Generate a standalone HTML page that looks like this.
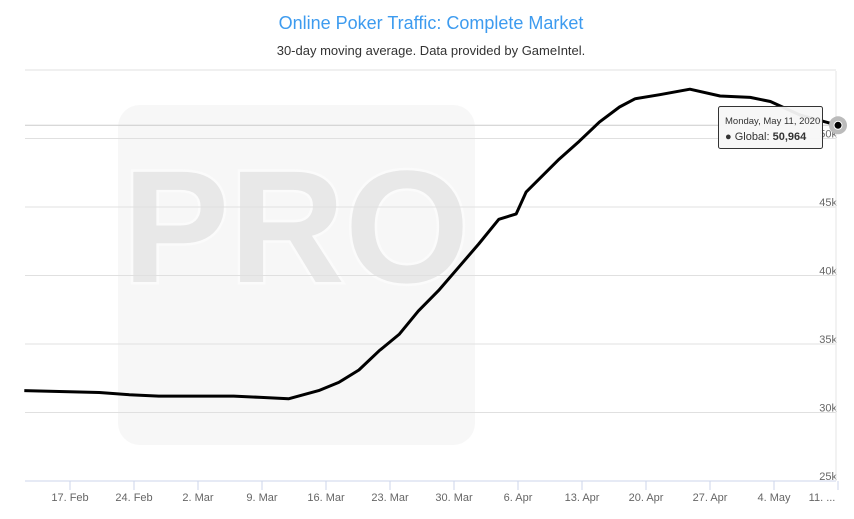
<!DOCTYPE html>
<html><head><meta charset="utf-8"><style>
html,body{margin:0;padding:0;background:#fff;}
svg{display:block;font-family:"Liberation Sans",sans-serif;}
</style></head><body>
<svg id="chart" width="854" height="519" viewBox="0 0 854 519">
<g id="watermark">
<rect x="118" y="105" width="357" height="340" rx="22" fill="#f7f7f7"/>
<text x="296" y="282" text-anchor="middle" font-size="160" style="font-weight:700" fill="#e8e8e8" stroke="#fbfbfb" stroke-width="5" paint-order="stroke">PRO</text>
</g>
<text x="431" y="29" text-anchor="middle" font-size="18" fill="#3d9bef">Online Poker Traffic: Complete Market</text>
<text x="431" y="55" text-anchor="middle" font-size="13" fill="#333">30-day moving average. Data provided by GameIntel.</text>
<g id="grid"></g><g id="xaxis"></g><g id="series"></g><g id="tip"></g>
</svg>
<script>
const yTicks=[25,30,35,40,45,50,55];
const xTickLabels=["17. Feb","24. Feb","2. Mar","9. Mar","16. Mar","23. Mar","30. Mar","6. Apr","13. Apr","20. Apr","27. Apr","4. May","11. ..."];
const xTickDays=[4,11,18,25,32,39,46,53,60,67,74,81,88];
const days=[-1,7.2,10.5,13.7,18.1,21.9,24.9,27.9,31.2,33.4,35.6,37.8,40,42.1,44.3,46.5,48.7,50.9,52.8,53.9,57.5,59.7,61.9,64.1,65.8,68.5,71.8,75.1,78.4,80.6,83.9,88];
const values=[31.6,31.46,31.3,31.2,31.2,31.2,31.1,31.0,31.6,32.2,33.1,34.5,35.7,37.4,38.9,40.6,42.3,44.1,44.5,46.1,48.5,49.8,51.2,52.3,52.9,53.2,53.6,53.1,53.0,52.7,51.7,50.964];
const NS="http://www.w3.org/2000/svg";
const xS=d=>70+(d-4)*9.143;
const yS=v=>481-(v-25)*13.7;
function mk(t,a,p){const e=document.createElementNS(NS,t);for(const k in a)e.setAttribute(k,a[k]);p.appendChild(e);return e;}
const grid=document.getElementById('grid');
yTicks.forEach(v=>{
  const l=mk('line',{x1:25,x2:836,y1:yS(v),y2:yS(v),stroke:v===25?'#ccd6eb':'#e0e0e0','stroke-width':1},grid);
  
  
  if(v<55){const t=mk('text',{x:837,y:yS(v)-1,'text-anchor':'end','font-size':11,fill:'#666'},grid);t.textContent=v+'k';
  
  }
});
const rb=mk('line',{x1:836,x2:836,y1:71,y2:481,stroke:'#e6e6e6'},grid);


const xa=document.getElementById('xaxis');
xTickDays.forEach((d,i)=>{
  const x=xS(d);
  const tk=mk('line',{x1:x,x2:x,y1:481,y2:490,stroke:'#ccd6eb'},xa);
  
  
  const t=mk('text',{x:i===12?x-16:x,y:501,'text-anchor':'middle','font-size':11,fill:'#666'},xa);t.textContent=xTickLabels[i];
  
  
});
const s=document.getElementById('series');
const pts=days.map((d,i)=>xS(d).toFixed(1)+','+yS(values[i]).toFixed(1));
const hl=mk('line',{x1:25,x2:836,y1:yS(values[values.length-1]),y2:yS(values[values.length-1]),stroke:'#ccc'},s);


const pl=mk('polyline',{points:pts.join(' '),fill:'none',stroke:'#000','stroke-width':3,'stroke-linejoin':'round'},s);


const lx=xS(days[days.length-1]),ly=yS(values[values.length-1]);
const halo=mk('circle',{cx:lx,cy:ly,r:9,fill:'#bbb'},s);


const dot=mk('circle',{cx:lx,cy:ly,r:4,fill:'#000',stroke:'#fff','stroke-width':1},s);


const tp=document.getElementById('tip');


mk('rect',{x:718.5,y:106.5,width:104,height:42,rx:2,fill:'#f7f7f7','fill-opacity':0.95,stroke:'#333'},tp);
const t1=mk('text',{x:725,y:124,'font-size':9.5,fill:'#333'},tp);t1.textContent='Monday, May 11, 2020';
const t2=mk('text',{x:725,y:140,'font-size':11,fill:'#333'},tp);
t2.innerHTML='<tspan>● Global: </tspan><tspan font-weight="bold">50,964</tspan>';
</script>
</body></html>
